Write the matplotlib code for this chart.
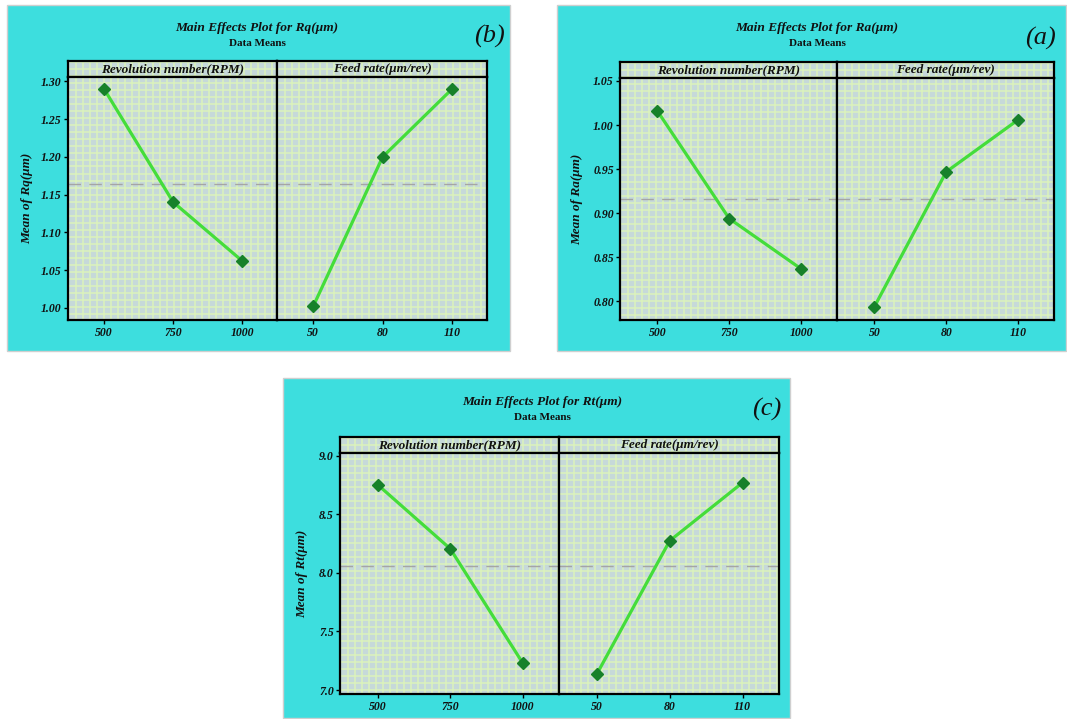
import matplotlib
matplotlib.use("Agg")
import matplotlib.pyplot as plt
from matplotlib.patches import Rectangle
import numpy as np

# ---------------- data ----------------
rpm_levels = ['500', '750', '1000']
feed_levels = ['50', '80', '110']

ra_rpm = [1.016, 0.894, 0.837]
ra_feed = [0.794, 0.947, 1.006]
rq_rpm = [1.290, 1.140, 1.062]
rq_feed = [1.002, 1.200, 1.290]
rt_rpm = [8.752, 8.206, 7.230]
rt_feed = [7.137, 8.274, 8.770]

strip_labels = ['Revolution number(RPM)', 'Feed rate(\u03bcm/rev)']

# ---------------- style ----------------
W, H = 1067, 719
CYAN = '#3ddede'
PLOT_BG = '#c6d9d9'
GRID = '#dcf3bc'
LINE = '#44dd3a'
MARK = '#17812a'
SERIF = ['Liberation Serif', 'DejaVu Serif']

fig = plt.figure(figsize=(W / 100, H / 100), dpi=100)
fig.patch.set_facecolor('white')


def fx(x):
    return x / W


def fy(y):
    return 1 - y / H


def add_box(x0, y0, x1, y1):
    fig.add_artist(Rectangle((fx(x0), fy(y1)), fx(x1) - fx(x0), fy(y0) - fy(y1),
                             transform=fig.transFigure, facecolor=CYAN,
                             edgecolor='#cfcfcf', lw=1.0, zorder=0))


def draw_grid(ax, wpx, hpx, top_offset, step=7.0):
    xs = (np.arange(step, wpx, step) + 0.5) / wpx
    vl = ax.vlines(xs, 0, 1, transform=ax.transAxes, color=GRID, lw=1.1, zorder=0.5)
    start = (step - (top_offset % step)) % step
    ys_px = np.arange(start, hpx, step) + 0.5
    ys = 1 - ys_px / hpx
    hl = ax.hlines(ys, 0, 1, transform=ax.transAxes, color=GRID, lw=1.1, zorder=0.5)
    vl.set_snap(True)
    hl.set_snap(True)


def panel(box, left, div, right, stop, sbot, bottom, ylim, yticks, yfmt,
          title, ylabel, letter, title_xy, letter_xy, ylabel_x,
          rpm_vals, feed_vals):
    add_box(*box)
    all_vals = list(rpm_vals) + list(feed_vals)
    grand_mean = np.mean(all_vals)
    halves = [(left, div, rpm_levels, rpm_vals), (div, right, feed_levels, feed_vals)]
    for i, (l, r, levels, vals) in enumerate(halves):
        sax = fig.add_axes([fx(l), fy(sbot), fx(r) - fx(l), fy(stop) - fy(sbot)])
        sax.set_facecolor(PLOT_BG)
        sax.set_xticks([]); sax.set_yticks([])
        draw_grid(sax, r - l, sbot - stop, 0)
        for sp in sax.spines.values():
            sp.set_linewidth(1.6); sp.set_color('black')
        sax.text(0.5, 0.47, strip_labels[i], transform=sax.transAxes,
                 ha='center', va='center', fontsize=9.5, fontweight='bold',
                 fontstyle='italic', family=SERIF, color='#111111')
        ax = fig.add_axes([fx(l), fy(bottom), fx(r) - fx(l), fy(sbot) - fy(bottom)])
        ax.set_facecolor(PLOT_BG)
        draw_grid(ax, r - l, bottom - sbot, sbot - stop)
        x = np.arange(len(levels))
        ax.axhline(grand_mean, color='#a5a5a5', lw=1.0, ls=(0, (9, 6)), zorder=1)
        ax.plot(x, vals, color=LINE, lw=2.3, zorder=2,
                marker='D', markersize=5.8, markerfacecolor=MARK,
                markeredgecolor=MARK)
        ax.set_xlim(-0.52, 2.5)
        ax.set_ylim(*ylim)
        ax.set_xticks(x)
        ax.set_xticklabels(levels)
        for sp in ax.spines.values():
            sp.set_linewidth(1.6); sp.set_color('black')
        ax.tick_params(axis='x', length=3, width=1, pad=2, direction='out')
        if i == 0:
            ax.set_yticks(yticks)
            ax.set_yticklabels([yfmt % v for v in yticks])
            ax.tick_params(axis='y', length=3, width=1, pad=1.5, direction='out')
        else:
            ax.set_yticks([])
        for lab in ax.get_xticklabels() + ax.get_yticklabels():
            lab.set_fontfamily(SERIF)
            lab.set_fontweight('bold')
            lab.set_fontstyle('italic')
            lab.set_fontsize(8.5)
            lab.set_color('#111111')
    tx, ty = title_xy
    fig.text(fx(tx), fy(ty), title, ha='center', va='center', fontsize=9.6,
             fontweight='bold', fontstyle='italic', family=SERIF, color='#111111')
    fig.text(fx(tx), fy(ty + 16), 'Data Means', ha='center', va='center',
             fontsize=8, fontweight='bold', family=SERIF, color='#111111')
    lx, ly = letter_xy
    fig.text(fx(lx), fy(ly), letter, ha='center', va='center', fontsize=19,
             fontstyle='italic', family=SERIF, color='#111111')
    fig.text(fx(ylabel_x), fy((sbot + bottom) / 2), ylabel, rotation=90,
             ha='center', va='center', fontsize=9.5, fontweight='bold',
             fontstyle='italic', family=SERIF, color='#111111')


# (b) Rq
panel((7, 5, 510, 351), 68, 277, 487, 61, 77, 320,
      (0.984, 1.3057), [1.00, 1.05, 1.10, 1.15, 1.20, 1.25, 1.30], '%.2f',
      'Main Effects Plot for Rq(\u03bcm)', 'Mean of Rq(\u03bcm)', '(b)',
      (257, 28), (489, 36), 27, rq_rpm, rq_feed)

# (a) Ra
panel((557, 5, 1066, 351), 620, 837, 1054, 62, 78, 320,
      (0.779, 1.0534), [0.80, 0.85, 0.90, 0.95, 1.00, 1.05], '%.2f',
      'Main Effects Plot for Ra(\u03bcm)', 'Mean of Ra(\u03bcm)', '(a)',
      (817, 28), (1040, 38), 577, ra_rpm, ra_feed)

# (c) Rt
panel((283, 378, 790, 718), 340, 559, 779, 437, 453, 694,
      (6.966, 9.023), [7.0, 7.5, 8.0, 8.5, 9.0], '%.1f',
      'Main Effects Plot for Rt(\u03bcm)', 'Mean of Rt(\u03bcm)', '(c)',
      (542, 402), (767, 409), 302, rt_rpm, rt_feed)

fig.savefig('out.png', dpi=100, facecolor='white')
